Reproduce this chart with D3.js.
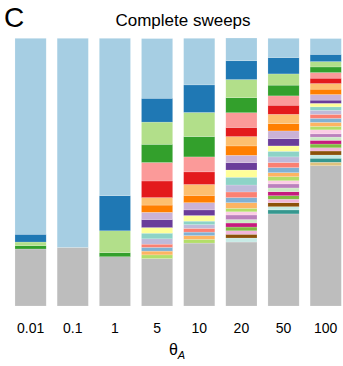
<!DOCTYPE html>
<html lang="en">
<head>
<meta charset="UTF-8"/>
<script src="https://d3js.org/d3.v7.min.js"></script>
<style>
  body { margin: 0; background: #fff; }
  text { font-family: "Liberation Sans", Arial, sans-serif; fill: #000; }
</style>
</head>
<body>
<script type="text/javascript">
// theta_A values along the x axis
var categories = ["0.01", "0.1", "1", "5", "10", "20", "50", "100"];

// share of each segment per bar (percent), listed from the top of the bar down
var lightBlue   = [73.2, 78.1, 58.8, 22.3, 17.4, 8.5, 7.2, 5.9];
var darkBlue    = [2.9, 0, 13.1, 8.9, 10.3, 7.0, 6.1, 2.7];
var lightGreen  = [1.4, 0, 8.2, 8.3, 9.0, 6.8, 4.2, 2.0];
var darkGreen   = [1.2, 0, 1.5, 6.8, 7.6, 5.6, 4.0, 2.1];
var pink        = [0, 0, 0, 6.9, 5.6, 5.5, 3.5, 2.1];
var red         = [0, 0, 0, 6.2, 4.7, 3.4, 3.4, 2.0];
var lightOrange = [0, 0, 0, 2.8, 4.1, 3.5, 3.5, 2.1];
var orange      = [0, 0, 0, 2.7, 2.7, 3.5, 2.7, 2.0];
var lightPurple = [0, 0, 0, 2.7, 2.7, 2.8, 2.9, 2.1];
var purple      = [0, 0, 0, 3.0, 2.1, 2.7, 2.7, 1.2];
var yellow      = [0, 0, 0, 2.1, 2.1, 2.7, 2.0, 1.3];
var teal        = [0, 0, 0, 2.1, 1.3, 2.9, 2.1, 1.3];
var lavender    = [0, 0, 0, 2.0, 1.4, 2.6, 2.1, 1.5];
var salmon      = [0, 0, 0, 1.2, 1.4, 2.1, 1.9, 1.5];
var steel       = [0, 0, 0, 1.4, 1.3, 1.9, 1.9, 1.5];
var apricot     = [0, 0, 0, 1.4, 1.4, 2.1, 1.5, 1.5];
var lime        = [0, 0, 0, 1.4, 1.4, 1.3, 1.5, 1.3];
var blush       = [0, 0, 0, 0, 0, 1.2, 1.2, 1.5];
var orchid      = [0, 0, 0, 0, 0, 1.7, 1.5, 1.2];
var mint        = [0, 0, 0, 0, 0, 1.3, 1.4, 1.2];
var magenta     = [0, 0, 0, 0, 0, 1.5, 1.5, 1.4];
var grass       = [0, 0, 0, 0, 0, 1.4, 1.3, 1.4];
var rose        = [0, 0, 0, 0, 0, 1.3, 1.3, 1.2];
var brown       = [0, 0, 0, 0, 0, 1.4, 1.5, 1.5];
var paleTeal    = [0, 0, 0, 0, 0, 1.5, 1.2, 1.2];
var darkTeal    = [0, 0, 0, 0, 0, 0, 1.5, 1.5];
var tan         = [0, 0, 0, 0, 0, 0, 0, 1.3];
var gray        = [21.3, 21.9, 18.4, 17.7, 23.5, 23.9, 34.4, 52.4];

var seriesTopDown = [lightBlue, darkBlue, lightGreen, darkGreen, pink, red,
    lightOrange, orange, lightPurple, purple, yellow, teal, lavender, salmon,
    steel, apricot, lime, blush, orchid, mint, magenta, grass, rose, brown,
    paleTeal, darkTeal, tan, gray];
var colorsTopDown = ["#a6cee3", "#1f78b4", "#b2df8a", "#33a02c", "#fb9a99", "#e31a1c",
    "#fdbf6f", "#ff7f00", "#cab2d6", "#6a3d9a", "#ffff99", "#8dd3c7", "#bebada", "#fb8072",
    "#80b1d3", "#fdb462", "#b3de69", "#fccde5", "#bc80bd", "#ccebc5", "#c51b7d", "#7fbc41",
    "#f1b6da", "#8c510a", "#c7eae5", "#35978f", "#dfc27d", "#bdbdbd"];

var w = 343, h = 366;

// stack from the bottom (gray) upward
var keys = d3.range(seriesTopDown.length).reverse();
var rows = categories.map(function(c, i) {
    var r = { cat: c };
    keys.forEach(function(k) { r[k] = seriesTopDown[k][i]; });
    return r;
});
var stacked = d3.stack().keys(keys)(rows);

var xScale = d3.scaleBand()
               .domain(categories)
               .range([9.5, 346.8])
               .paddingInner(0.26)
               .paddingOuter(0.13);

var yScale = d3.scaleLinear()
               .domain([0, 100])
               .range([306, 38.3]);

var svg = d3.select("body")
            .append("svg")
            .attr("width", w)
            .attr("height", h);

svg.selectAll("g.layer")
   .data(stacked)
   .enter()
   .append("g")
   .attr("class", "layer")
   .attr("fill", function(d) { return colorsTopDown[d.key]; })
   .selectAll("rect")
   .data(function(d) { return d.filter(function(p) { return p[1] - p[0] > 0; }); })
   .enter()
   .append("rect")
   .attr("x", function(d) { return xScale(d.data.cat); })
   .attr("width", xScale.bandwidth())
   .attr("y", function(d) { return yScale(d[1]); })
   .attr("height", function(d) { return yScale(d[0]) - yScale(d[1]); })
   .attr("stroke", "#ffffff")
   .attr("stroke-opacity", 0.35)
   .attr("stroke-width", 0.5);

// x axis, labels only
var xAxis = d3.axisBottom(xScale).tickSize(0);
var gx = svg.append("g")
            .attr("transform", "translate(0,319)")
            .call(xAxis);
gx.select(".domain").remove();
gx.selectAll("text")
  .attr("y", 13.5)
  .attr("dy", 0)
  .style("font-size", "14px")
  .style("font-family", "'Liberation Sans', Arial, sans-serif")
  .attr("fill", "#000");

// axis title theta_A
var xt = svg.append("text")
            .attr("x", 177)
            .attr("y", 355)
            .attr("text-anchor", "middle")
            .style("font-size", "16px");
xt.append("tspan").text("\u03b8");
xt.append("tspan")
  .attr("dy", 4)
  .style("font-size", "11px")
  .style("font-style", "italic")
  .text("A");

// chart title and panel letter
svg.append("text")
   .attr("x", 183)
   .attr("y", 26)
   .attr("text-anchor", "middle")
   .style("font-size", "17px")
   .text("Complete sweeps");

svg.append("text")
   .attr("x", 4)
   .attr("y", 26.5)
   .style("font-size", "28px")
   .text("C");
</script>
</body>
</html>
